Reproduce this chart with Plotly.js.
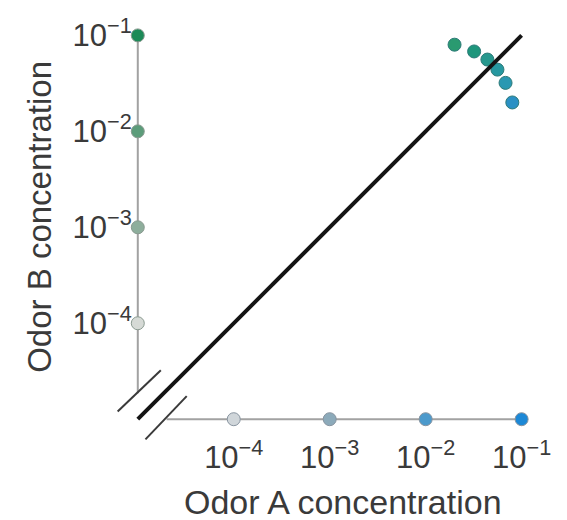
<!DOCTYPE html>
<html>
<head>
<meta charset="utf-8">
<script src="https://cdn.plot.ly/plotly-3.0.1.min.js"></script>
<style>html,body{margin:0;padding:0;background:#fff;}#chart{width:567px;height:520px;}</style>
</head>
<body>
<div id="chart"></div>
<script>
// ---- data ----
const AXIS_ZERO = 1e-5;                       // where "zero" concentration sits (on the broken axis)
const odorBOnly = [1e-1, 1e-2, 1e-3, 1e-4];   // B concentrations, A = 0
const odorBOnlyColors = ['#1c8a58', '#5c9c7a', '#8eae9c', '#d6dad6'];
const odorAOnly = [1e-4, 1e-3, 1e-2, 1e-1];   // A concentrations, B = 0
const odorAOnlyColors = ['#d0d6da', '#8caaba', '#4c9acc', '#1c88d6'];
const mixA = [0.020, 0.032, 0.044, 0.056, 0.068, 0.080];
const mixB = [0.080, 0.068, 0.056, 0.044, 0.032, 0.020];
const mixColors = ['#2a9a70', '#1e967c', '#26988e', '#2698a0', '#2a98b2', '#2a90c4'];
const diagonal = [1e-5, 1e-1];                // identity line y = x
const tickVals = [1e-4, 1e-3, 1e-2, 1e-1];
const tickText = ['10<sup>−4</sup>', '10<sup>−3</sup>', '10<sup>−2</sup>', '10<sup>−1</sup>'];

// ---- decoration (axis lines & break marks, in log10 units) ----
const yAxisEnd = -4.73, xAxisStart = -4.70;
const p = v => Math.pow(10, v);

const FONT = 'Liberation Sans, Arial, Helvetica, sans-serif';
const traces = [
  {x: [AXIS_ZERO, AXIS_ZERO], y: [p(yAxisEnd), 1e-1], mode: 'lines',
   line: {color: '#a2a2a2', width: 2}, hoverinfo: 'skip'},
  {x: [p(xAxisStart), 1e-1], y: [AXIS_ZERO, AXIS_ZERO], mode: 'lines',
   line: {color: '#a2a2a2', width: 2}, hoverinfo: 'skip'},
  {x: [p(-5.21), p(-4.76)], y: [p(-4.92), p(-4.49)], mode: 'lines',
   line: {color: '#3a3a3a', width: 2}, hoverinfo: 'skip'},
  {x: [p(-4.92), p(-4.49)], y: [p(-5.21), p(-4.76)], mode: 'lines',
   line: {color: '#3a3a3a', width: 2}, hoverinfo: 'skip'},
  {x: odorBOnly.map(() => AXIS_ZERO), y: odorBOnly, mode: 'markers', cliponaxis: false,
   marker: {size: 13, color: odorBOnlyColors, line: {color: '#8a9a90', width: 1}}},
  {x: odorAOnly, y: odorAOnly.map(() => AXIS_ZERO), mode: 'markers', cliponaxis: false,
   marker: {size: 13, color: odorAOnlyColors, line: {color: '#8894a0', width: 1}}},
  {x: mixA, y: mixB, mode: 'markers', cliponaxis: false,
   marker: {size: 13, color: mixColors, line: {color: '#2c7a78', width: 1}}},
  {x: diagonal, y: diagonal, mode: 'lines', line: {color: '#141414', width: 4}, hoverinfo: 'skip'}
];

const axisCommon = {
  type: 'log', range: [-5.3, -0.85], showgrid: false, zeroline: false, showline: false,
  ticks: '', tickvals: tickVals, ticktext: tickText,
  tickfont: {family: FONT, size: 31, color: '#3a3a3a'},
  anchor: 'free', position: 0.0674
};

const layout = {
  width: 567, height: 520,
  margin: {l: 109, r: 31, t: 21, b: 72},
  paper_bgcolor: '#fff', plot_bgcolor: '#fff',
  showlegend: false, hovermode: false,
  xaxis: Object.assign({}, axisCommon, {ticklabelstandoff: 17}),
  yaxis: Object.assign({}, axisCommon, {ticklabelstandoff: 6}),
  annotations: [
    {text: 'Odor A concentration', xref: 'paper', yref: 'paper', x: 0.548, y: -0.126,
     xanchor: 'center', yanchor: 'middle', showarrow: false,
     font: {family: FONT, size: 34, color: '#3a3a3a'}},
    {text: 'Odor B concentration', xref: 'paper', yref: 'paper', x: -0.162, y: 0.541,
     xanchor: 'center', yanchor: 'middle', showarrow: false, textangle: -90,
     font: {family: FONT, size: 33, color: '#3a3a3a'}}
  ]
};

Plotly.newPlot('chart', traces, layout, {displayModeBar: false, staticPlot: true});
</script>
</body>
</html>
